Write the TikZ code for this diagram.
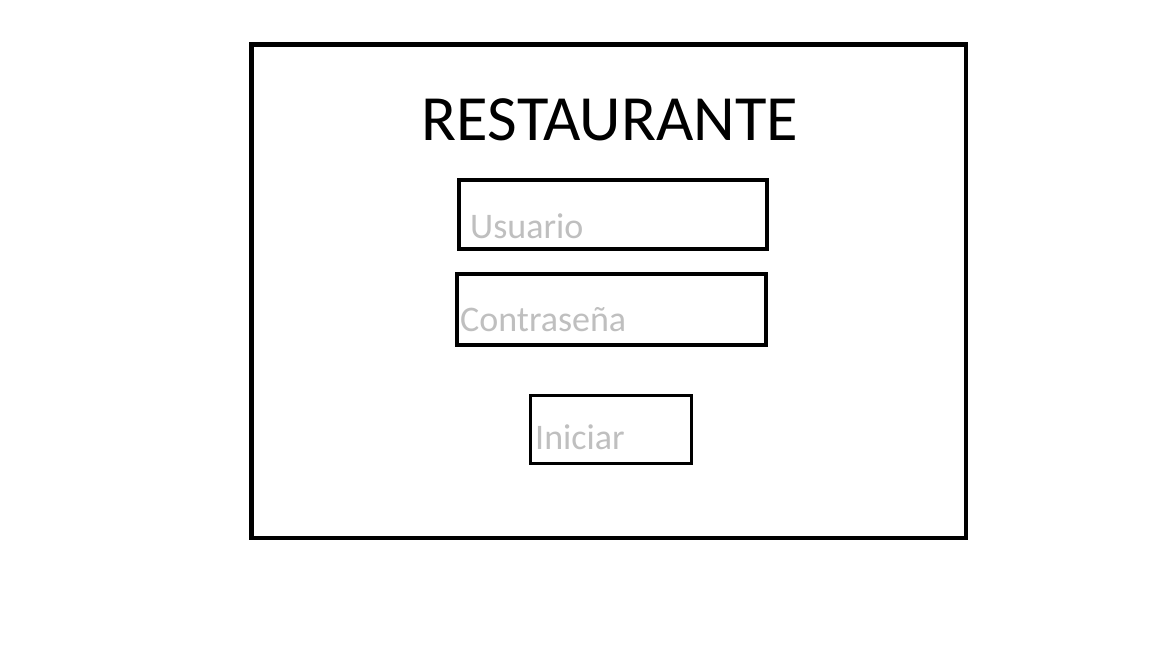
\documentclass[tikz,border=0pt]{standalone}
\usepackage{fontspec}
\setmainfont{Carlito}
\definecolor{hintgray}{RGB}{191,191,191}
\tikzset{
  boxframe/.style={draw=black, rectangle, inner sep=0pt, outer sep=0pt, anchor=north west},
  hint/.style={text=hintgray, font=\fontsize{36}{40}\selectfont, inner sep=0pt, anchor=base west},
}
\begin{document}
\begin{tikzpicture}[x=1pt,y=-1pt]
\useasboundingbox[fill=white] (0,0) rectangle (1152,648);
% outer frame
\node[boxframe, line width=4.5pt, minimum width=714.5pt, minimum height=493.5pt] (frame) at (251.5,44.5) {};
% title
\node[inner sep=0pt, anchor=base, font=\fontsize{64.5}{70}\selectfont] (title) at (610,140) {RESTAURANTE};
% user field
\node[boxframe, line width=4pt, minimum width=308pt, minimum height=69pt] (userbox) at (459,180) {};
\node[hint] (usertext) at (470,238) {Usuario};
% password field
\node[boxframe, line width=4pt, minimum width=309pt, minimum height=71pt] (passbox) at (456.5,273.5) {};
\node[hint] (passtext) at (460,331) {Contraseña};
% button
\node[boxframe, line width=3pt, minimum width=161pt, minimum height=68.5pt] (btnbox) at (530.5,395) {};
\node[hint] (btntext) at (535,449) {Iniciar};
\end{tikzpicture}
\end{document}
